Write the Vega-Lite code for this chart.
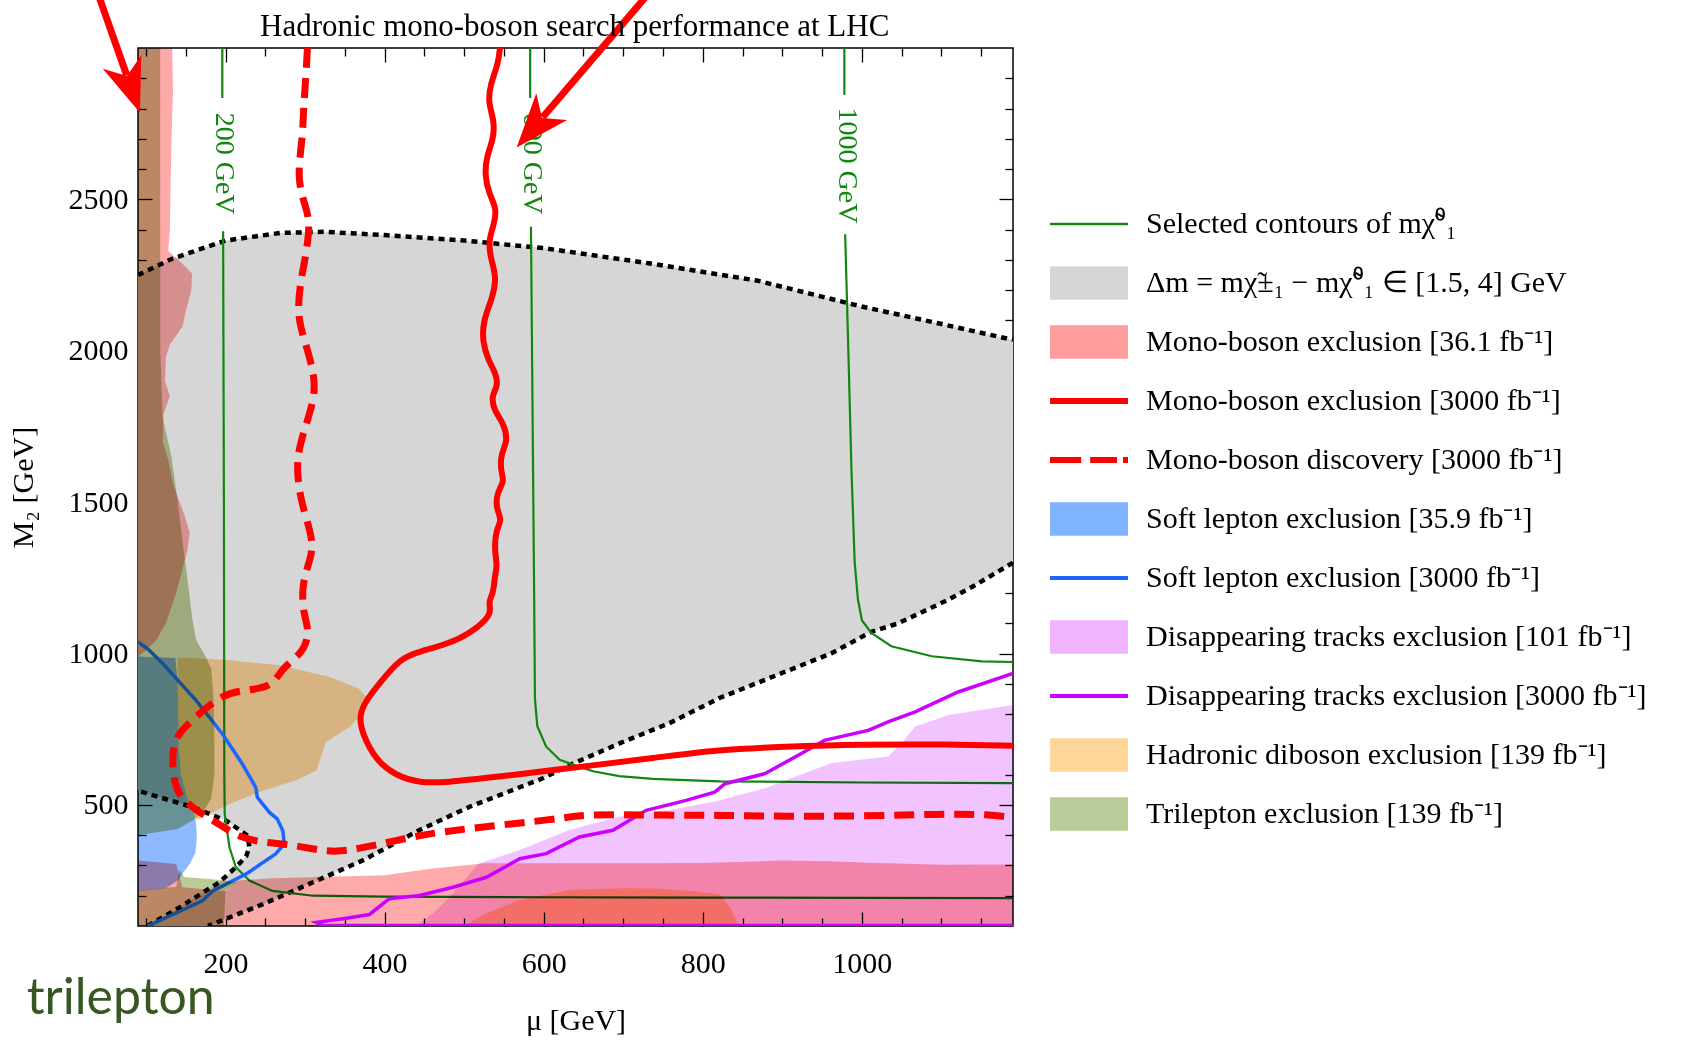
{
"$schema": "https://vega.github.io/schema/vega-lite/v6.json",
"width": 875,
"height": 878,
"autosize": {"type": "none"},
"padding": {"left": 138, "top": 48, "right": 679, "bottom": 114},
"background": "#ffffff",
"config": {
 "view": {"stroke": "#000000", "strokeWidth": 1.5},
 "axis": {"domain": false, "grid": false, "tickColor": "#000000", "tickWidth": 1.3, "labelFont": "Liberation Serif", "labelFontSize": 30, "labelColor": "#000000", "titleFont": "Liberation Serif", "titleFontSize": 30, "titleFontWeight": "normal", "titleColor": "#000000", "labelFlush": false, "labelOverlap": false, "format": "d"},
 "legend": {"labelFont": "Liberation Serif", "labelFontSize": 30, "labelColor": "#000000", "labelLimit": 700, "symbolSize": 6084, "symbolStrokeWidth": 0, "symbolOpacity": 1, "symbolOffset": 0, "labelOffset": 18, "rowPadding": 23, "clipHeight": 36, "padding": 0}
},
"resolve": {"axis": {"x": "independent", "y": "independent"}},
"datasets": {
 "grey": [
  {"mu":90,"m2":2250},{"mu":133,"m2":2304},{"mu":200,"m2":2364},{"mu":269,"m2":2389},{"mu":324,"m2":2393},{"mu":400,"m2":2382},{"mu":500,"m2":2364},{"mu":600,"m2":2339},{"mu":732,"m2":2289},{"mu":868,"m2":2232},{"mu":1000,"m2":2146},{"mu":1099,"m2":2089},{"mu":1190,"m2":2036},
  {"mu":1190,"m2":1300},{"mu":1140,"m2":1222},{"mu":1108,"m2":1177},{"mu":1045,"m2":1099},{"mu":1012,"m2":1072},{"mu":962,"m2":1001},{"mu":899,"m2":935},{"mu":821,"m2":853},{"mu":758,"m2":770},{"mu":696,"m2":704},{"mu":633,"m2":632},{"mu":599,"m2":588},{"mu":507,"m2":494},{"mu":444,"m2":417},{"mu":372,"m2":316},{"mu":314,"m2":249},{"mu":247,"m2":172},{"mu":178,"m2":100},
  {"mu":102,"m2":100},{"mu":142,"m2":161},{"mu":175,"m2":216},{"mu":192,"m2":244},{"mu":213,"m2":294},{"mu":226,"m2":330},{"mu":230,"m2":360},{"mu":228,"m2":398},{"mu":201,"m2":448},{"mu":159,"m2":492},{"mu":90,"m2":547}
 ],
 "dots": [
  {"g":"A","mu":90,"m2":2250},{"g":"A","mu":133,"m2":2304},{"g":"A","mu":200,"m2":2364},{"g":"A","mu":269,"m2":2389},{"g":"A","mu":324,"m2":2393},{"g":"A","mu":400,"m2":2382},{"g":"A","mu":500,"m2":2364},{"g":"A","mu":600,"m2":2339},{"g":"A","mu":732,"m2":2289},{"g":"A","mu":868,"m2":2232},{"g":"A","mu":1000,"m2":2146},{"g":"A","mu":1099,"m2":2089},{"g":"A","mu":1190,"m2":2036},
  {"g":"B","mu":1190,"m2":1300},{"g":"B","mu":1140,"m2":1222},{"g":"B","mu":1108,"m2":1177},{"g":"B","mu":1045,"m2":1099},{"g":"B","mu":1012,"m2":1072},{"g":"B","mu":962,"m2":1001},{"g":"B","mu":899,"m2":935},{"g":"B","mu":821,"m2":853},{"g":"B","mu":758,"m2":770},{"g":"B","mu":696,"m2":704},{"g":"B","mu":633,"m2":632},{"g":"B","mu":599,"m2":588},{"g":"B","mu":507,"m2":494},{"g":"B","mu":444,"m2":417},{"g":"B","mu":372,"m2":316},{"g":"B","mu":314,"m2":249},{"g":"B","mu":247,"m2":172},{"g":"B","mu":178,"m2":100},
  {"g":"C","mu":102,"m2":100},{"g":"C","mu":142,"m2":161},{"g":"C","mu":175,"m2":216},{"g":"C","mu":192,"m2":244},{"g":"C","mu":213,"m2":294},{"g":"C","mu":226,"m2":330},{"g":"C","mu":230,"m2":360},{"g":"C","mu":228,"m2":398},{"g":"C","mu":201,"m2":448},{"g":"C","mu":159,"m2":492},{"g":"C","mu":90,"m2":547}
 ],
 "contours": [
  {"g":"200a","mu":196,"m2":3000},{"g":"200a","mu":196,"m2":2835},
  {"g":"200b","mu":197,"m2":2395},{"g":"200b","mu":198,"m2":1500},{"g":"200b","mu":198.5,"m2":600},{"g":"200b","mu":199,"m2":470},{"g":"200b","mu":205,"m2":360},{"g":"200b","mu":213,"m2":294},{"g":"200b","mu":230,"m2":250},{"g":"200b","mu":259,"m2":216},{"g":"200b","mu":310,"m2":200},{"g":"200b","mu":400,"m2":197},{"g":"200b","mu":600,"m2":195},{"g":"200b","mu":800,"m2":194},{"g":"200b","mu":1000,"m2":193},{"g":"200b","mu":1190,"m2":192},
  {"g":"600a","mu":583,"m2":3000},{"g":"600a","mu":583,"m2":2835},
  {"g":"600b","mu":584,"m2":2410},{"g":"600b","mu":586,"m2":1800},{"g":"600b","mu":588,"m2":1200},{"g":"600b","mu":589,"m2":850},{"g":"600b","mu":592,"m2":760},{"g":"600b","mu":603,"m2":693},{"g":"600b","mu":620,"m2":649},{"g":"600b","mu":637,"m2":633},{"g":"600b","mu":662,"m2":611},{"g":"600b","mu":695,"m2":595},{"g":"600b","mu":737,"m2":586},{"g":"600b","mu":821,"m2":578},{"g":"600b","mu":1000,"m2":574},{"g":"600b","mu":1190,"m2":572},
  {"g":"1000a","mu":978,"m2":3000},{"g":"1000a","mu":978,"m2":2845},
  {"g":"1000b","mu":979,"m2":2385},{"g":"1000b","mu":983,"m2":2000},{"g":"1000b","mu":987,"m2":1600},{"g":"1000b","mu":991,"m2":1300},{"g":"1000b","mu":995,"m2":1180},{"g":"1000b","mu":1000,"m2":1110},{"g":"1000b","mu":1012,"m2":1068},{"g":"1000b","mu":1037,"m2":1024},{"g":"1000b","mu":1088,"m2":991},{"g":"1000b","mu":1151,"m2":974},{"g":"1000b","mu":1190,"m2":972}
 ],
 "labels": [
  {"mu":198,"m2":2618,"t":"200 GeV"},{"mu":585,"m2":2618,"t":"600 GeV"},{"mu":981,"m2":2612,"t":"1000 GeV"}
 ],
 "ttl": [{"mu":639,"m2":3068,"t":"Hadronic mono-boson search performance at LHC"}],
 "pinkF": [
  {"g":"p1","mu":90,"m2":3000},{"g":"p1","mu":133,"m2":3000},{"g":"p1","mu":134,"m2":2850},{"g":"p1","mu":132,"m2":2700},{"g":"p1","mu":131,"m2":2550},{"g":"p1","mu":130,"m2":2400},{"g":"p1","mu":128,"m2":2330},{"g":"p1","mu":145,"m2":2290},{"g":"p1","mu":158,"m2":2255},{"g":"p1","mu":157,"m2":2200},{"g":"p1","mu":150,"m2":2130},{"g":"p1","mu":146,"m2":2080},{"g":"p1","mu":130,"m2":2020},{"g":"p1","mu":125,"m2":1980},{"g":"p1","mu":124,"m2":1900},{"g":"p1","mu":130,"m2":1850},{"g":"p1","mu":122,"m2":1790},{"g":"p1","mu":121,"m2":1700},{"g":"p1","mu":128,"m2":1640},{"g":"p1","mu":134,"m2":1560},{"g":"p1","mu":148,"m2":1460},{"g":"p1","mu":155,"m2":1400},{"g":"p1","mu":152,"m2":1340},{"g":"p1","mu":145,"m2":1270},{"g":"p1","mu":138,"m2":1200},{"g":"p1","mu":125,"m2":1100},{"g":"p1","mu":113,"m2":1045},{"g":"p1","mu":100,"m2":1010},{"g":"p1","mu":90,"m2":990},
  {"g":"p2","mu":90,"m2":316},{"g":"p2","mu":138,"m2":305},{"g":"p2","mu":146,"m2":228},{"g":"p2","mu":200,"m2":215},{"g":"p2","mu":215,"m2":250},{"g":"p2","mu":260,"m2":258},{"g":"p2","mu":320,"m2":262},{"g":"p2","mu":400,"m2":268},{"g":"p2","mu":460,"m2":290},{"g":"p2","mu":527,"m2":307},{"g":"p2","mu":700,"m2":307},{"g":"p2","mu":800,"m2":308},{"g":"p2","mu":900,"m2":316},{"g":"p2","mu":960,"m2":314},{"g":"p2","mu":1000,"m2":310},{"g":"p2","mu":1100,"m2":302},{"g":"p2","mu":1190,"m2":303},{"g":"p2","mu":1190,"m2":100},{"g":"p2","mu":90,"m2":100}
 ],
 "blueF": [
  {"mu":90,"m2":990},{"mu":137,"m2":985},{"mu":140,"m2":900},{"mu":141,"m2":700},{"mu":144,"m2":600},{"mu":152,"m2":520},{"mu":160,"m2":480},{"mu":163,"m2":440},{"mu":164,"m2":390},{"mu":162,"m2":340},{"mu":155,"m2":305},{"mu":148,"m2":280},{"mu":140,"m2":250},{"mu":125,"m2":225},{"mu":90,"m2":215}
 ],
 "violetF": [
  {"mu":440,"m2":100},{"mu":460,"m2":140},{"mu":480,"m2":190},{"mu":500,"m2":250},{"mu":519,"m2":307},{"mu":570,"m2":351},{"mu":632,"m2":417},{"mu":695,"m2":461},{"mu":758,"m2":483},{"mu":815,"m2":511},{"mu":878,"m2":555},{"mu":962,"m2":638},{"mu":1033,"m2":660},{"mu":1052,"m2":710},{"mu":1067,"m2":759},{"mu":1109,"m2":797},{"mu":1190,"m2":830},{"mu":1190,"m2":100}
 ],
 "orangeF": [
  {"g":"o1","mu":140,"m2":985},{"g":"o1","mu":160,"m2":985},{"g":"o1","mu":205,"m2":978},{"g":"o1","mu":268,"m2":961},{"g":"o1","mu":330,"m2":923},{"g":"o1","mu":368,"m2":884},{"g":"o1","mu":379,"m2":851},{"g":"o1","mu":372,"m2":801},{"g":"o1","mu":356,"m2":757},{"g":"o1","mu":326,"m2":707},{"g":"o1","mu":320,"m2":658},{"g":"o1","mu":314,"m2":614},{"g":"o1","mu":289,"m2":581},{"g":"o1","mu":247,"m2":547},{"g":"o1","mu":205,"m2":503},{"g":"o1","mu":163,"m2":448},{"g":"o1","mu":160,"m2":480},{"g":"o1","mu":152,"m2":520},{"g":"o1","mu":144,"m2":600},{"g":"o1","mu":141,"m2":700},{"g":"o1","mu":140,"m2":900},
  {"g":"o2","mu":500,"m2":100},{"g":"o2","mu":525,"m2":140},{"g":"o2","mu":570,"m2":186},{"g":"o2","mu":632,"m2":219},{"g":"o2","mu":700,"m2":225},{"g":"o2","mu":740,"m2":224},{"g":"o2","mu":790,"m2":215},{"g":"o2","mu":821,"m2":205},{"g":"o2","mu":835,"m2":160},{"g":"o2","mu":845,"m2":100}
 ],
 "greenF": [
  {"g":"g1","mu":90,"m2":3000},{"g":"g1","mu":118,"m2":3000},{"g":"g1","mu":118,"m2":2000},{"g":"g1","mu":121,"m2":1780},{"g":"g1","mu":132,"m2":1650},{"g":"g1","mu":140,"m2":1500},{"g":"g1","mu":147,"m2":1350},{"g":"g1","mu":152,"m2":1250},{"g":"g1","mu":158,"m2":1120},{"g":"g1","mu":163,"m2":1045},{"g":"g1","mu":175,"m2":990},{"g":"g1","mu":182,"m2":950},{"g":"g1","mu":185,"m2":850},{"g":"g1","mu":186,"m2":700},{"g":"g1","mu":186,"m2":600},{"g":"g1","mu":182,"m2":520},{"g":"g1","mu":170,"m2":470},{"g":"g1","mu":158,"m2":448},{"g":"g1","mu":140,"m2":420},{"g":"g1","mu":90,"m2":400},
  {"g":"g2","mu":90,"m2":100},{"g":"g2","mu":198,"m2":100},{"g":"g2","mu":200,"m2":218},{"g":"g2","mu":215,"m2":245},{"g":"g2","mu":180,"m2":255},{"g":"g2","mu":148,"m2":262},{"g":"g2","mu":142,"m2":285},{"g":"g2","mu":138,"m2":230},{"g":"g2","mu":90,"m2":216}
 ],
 "blueL": [
  {"mu":90,"m2":1039},{"mu":104,"m2":1011},{"mu":121,"m2":967},{"mu":163,"m2":845},{"mu":196,"m2":735},{"mu":221,"m2":636},{"mu":238,"m2":558},{"mu":240,"m2":525},{"mu":255,"m2":476},{"mu":265,"m2":454},{"mu":272,"m2":415},{"mu":274,"m2":371},{"mu":263,"m2":338},{"mu":226,"m2":272},{"mu":184,"m2":216},{"mu":171,"m2":183},{"mu":102,"m2":100}
 ],
 "magL": [
  {"mu":1190,"m2":102},{"mu":322,"m2":102},{"mu":314,"m2":112},{"mu":350,"m2":125},{"mu":381,"m2":138},{"mu":406,"m2":190},{"mu":444,"m2":201},{"mu":486,"m2":228},{"mu":528,"m2":261},{"mu":570,"m2":322},{"mu":603,"m2":339},{"mu":645,"m2":394},{"mu":687,"m2":416},{"mu":729,"m2":482},{"mu":779,"m2":515},{"mu":815,"m2":542},{"mu":828,"m2":570},{"mu":878,"m2":603},{"mu":920,"m2":664},{"mu":953,"m2":713},{"mu":1008,"m2":746},{"mu":1033,"m2":774},{"mu":1067,"m2":807},{"mu":1121,"m2":873},{"mu":1190,"m2":934}
 ],
 "red": [
  {"mu":545,"m2":3000},{"mu":543,"m2":2950},{"mu":533,"m2":2880},{"mu":530,"m2":2820},{"mu":538,"m2":2760},{"mu":537,"m2":2700},{"mu":528,"m2":2640},{"mu":526,"m2":2580},{"mu":531,"m2":2520},{"mu":541,"m2":2470},{"mu":538,"m2":2420},{"mu":530,"m2":2360},{"mu":534,"m2":2300},{"mu":541,"m2":2240},{"mu":535,"m2":2170},{"mu":524,"m2":2100},{"mu":523,"m2":2030},{"mu":530,"m2":1970},{"mu":541,"m2":1920},{"mu":542,"m2":1880},{"mu":534,"m2":1850},{"mu":538,"m2":1800},{"mu":550,"m2":1760},{"mu":555,"m2":1700},{"mu":546,"m2":1660},{"mu":546,"m2":1600},{"mu":551,"m2":1570},{"mu":541,"m2":1530},{"mu":540,"m2":1480},{"mu":548,"m2":1440},{"mu":540,"m2":1410},{"mu":538,"m2":1340},{"mu":542,"m2":1290},{"mu":538,"m2":1250},{"mu":537,"m2":1200},{"mu":530,"m2":1170},{"mu":535,"m2":1135},{"mu":520,"m2":1090},{"mu":486,"m2":1035},{"mu":444,"m2":1007},{"mu":420,"m2":985},{"mu":393,"m2":900},{"mu":375,"m2":840},{"mu":368,"m2":790},{"mu":372,"m2":735},{"mu":389,"m2":647},{"mu":414,"m2":597},{"mu":444,"m2":572},{"mu":480,"m2":575},{"mu":528,"m2":589},{"mu":600,"m2":611},{"mu":654,"m2":628},{"mu":737,"m2":655},{"mu":821,"m2":683},{"mu":900,"m2":692},{"mu":1000,"m2":700},{"mu":1109,"m2":700},{"mu":1190,"m2":695}
 ],
 "redDash": [
  {"mu":303,"m2":3000},{"mu":301,"m2":2900},{"mu":298,"m2":2800},{"mu":297,"m2":2700},{"mu":289,"m2":2560},{"mu":305,"m2":2450},{"mu":305,"m2":2390},{"mu":300,"m2":2300},{"mu":294,"m2":2225},{"mu":290,"m2":2115},{"mu":300,"m2":2030},{"mu":313,"m2":1910},{"mu":311,"m2":1830},{"mu":294,"m2":1700},{"mu":289,"m2":1620},{"mu":294,"m2":1510},{"mu":305,"m2":1420},{"mu":311,"m2":1345},{"mu":302,"m2":1280},{"mu":296,"m2":1213},{"mu":298,"m2":1130},{"mu":306,"m2":1070},{"mu":297,"m2":1000},{"mu":272,"m2":956},{"mu":259,"m2":890},{"mu":230,"m2":880},{"mu":196,"m2":868},{"mu":163,"m2":790},{"mu":134,"m2":724},{"mu":133,"m2":625},{"mu":138,"m2":536},{"mu":163,"m2":481},{"mu":192,"m2":437},{"mu":217,"m2":393},{"mu":247,"m2":376},{"mu":276,"m2":371},{"mu":310,"m2":354},{"mu":339,"m2":343},{"mu":372,"m2":358},{"mu":414,"m2":382},{"mu":456,"m2":406},{"mu":528,"m2":429},{"mu":611,"m2":451},{"mu":654,"m2":470},{"mu":737,"m2":466},{"mu":821,"m2":466},{"mu":900,"m2":462},{"mu":1000,"m2":463},{"mu":1100,"m2":470},{"mu":1160,"m2":469},{"mu":1190,"m2":458}
 ],
 "arrows": [
  {"g":"a1","mu":40.8,"m2":3171},{"g":"a1","mu":75.8,"m2":2910},
  {"g":"a2","mu":729,"m2":3171},{"g":"a2","mu":598.7,"m2":2771}
 ],
 "head1": [{"mu":92.5,"m2":2786}],
 "head2": [{"mu":566,"m2":2671}],
 "note": [{"mu":-50,"m2":-192,"t":"trilepton"}],
 "leg": [
  {"s":"Selected contours of mχ̃⁰₁"},
  {"s":"Δm = mχ̃±₁ − mχ̃⁰₁ ∈ [1.5, 4] GeV"},
  {"s":"Mono-boson exclusion [36.1 fb⁻¹]"},
  {"s":"Mono-boson exclusion [3000 fb⁻¹]"},
  {"s":"Mono-boson discovery [3000 fb⁻¹]"},
  {"s":"Soft lepton exclusion [35.9 fb⁻¹]"},
  {"s":"Soft lepton exclusion [3000 fb⁻¹]"},
  {"s":"Disappearing tracks exclusion [101 fb⁻¹]"},
  {"s":"Disappearing tracks exclusion [3000 fb⁻¹]"},
  {"s":"Hadronic diboson exclusion [139 fb⁻¹]"},
  {"s":"Trilepton exclusion [139 fb⁻¹]"}
 ]
},
"layer": [
 {"data": {"name": "grey"},
  "mark": {"type": "line", "fill": "#d6d6d6", "strokeWidth": 0, "interpolate": "linear-closed", "order": false},
  "encoding": {
   "x": {"field": "mu", "type": "quantitative", "scale": {"domain": [90, 1190], "nice": false, "zero": false}, "axis": {"orient": "bottom", "values": [200, 400, 600, 800, 1000], "tickSize": -14, "labelPadding": 36, "title": "μ [GeV]", "titlePadding": 27}},
   "y": {"field": "m2", "type": "quantitative", "scale": {"domain": [100, 3000], "nice": false, "zero": false}, "axis": {"orient": "left", "values": [500, 1000, 1500, 2000, 2500], "tickSize": -14, "labelPadding": 24, "title": "M₂ [GeV]", "titlePadding": 30}}
  }},
 {"data": {"name": "dots"},
  "mark": {"type": "line", "color": "#000000", "strokeWidth": 4.5, "strokeDash": [6, 5], "order": false, "clip": true},
  "encoding": {
   "x": {"field": "mu", "type": "quantitative", "axis": {"orient": "bottom", "values": [100,150,250,300,350,450,500,550,650,700,750,850,900,950,1050,1100,1150], "tickSize": -8, "labels": false, "title": null}},
   "y": {"field": "m2", "type": "quantitative", "axis": {"orient": "left", "values": [200,300,400,600,700,800,900,1100,1200,1300,1400,1600,1700,1800,1900,2100,2200,2300,2400,2600,2700,2800,2900], "tickSize": -8, "labels": false, "title": null}},
   "detail": {"field": "g", "type": "nominal"}
  }},
 {"data": {"name": "contours"},
  "mark": {"type": "line", "color": "#108810", "strokeWidth": 2.2, "order": false, "clip": true},
  "encoding": {
   "x": {"field": "mu", "type": "quantitative", "axis": {"orient": "top", "values": [200, 400, 600, 800, 1000], "tickSize": -14, "labels": false, "title": null}},
   "y": {"field": "m2", "type": "quantitative", "axis": {"orient": "right", "values": [500, 1000, 1500, 2000, 2500], "tickSize": -14, "labels": false, "title": null}},
   "detail": {"field": "g", "type": "nominal"}
  }},
 {"data": {"name": "labels"},
  "mark": {"type": "text", "font": "Liberation Serif", "fontSize": 28, "color": "#108810", "angle": 90, "align": "center", "baseline": "middle"},
  "encoding": {
   "x": {"field": "mu", "type": "quantitative", "axis": {"orient": "top", "values": [100,150,250,300,350,450,500,550,650,700,750,850,900,950,1050,1100,1150], "tickSize": -8, "labels": false, "title": null}},
   "y": {"field": "m2", "type": "quantitative", "axis": {"orient": "right", "values": [200,300,400,600,700,800,900,1100,1200,1300,1400,1600,1700,1800,1900,2100,2200,2300,2400,2600,2700,2800,2900], "tickSize": -8, "labels": false, "title": null}},
   "text": {"field": "t", "type": "nominal"}
  }},
 {"data": {"name": "pinkF"},
  "mark": {"type": "line", "fill": "#ffaaaa", "strokeWidth": 0, "interpolate": "linear-closed", "order": false, "blend": "multiply"},
  "encoding": {"x": {"field": "mu", "type": "quantitative", "axis": null}, "y": {"field": "m2", "type": "quantitative", "axis": null}, "detail": {"field": "g", "type": "nominal"}}},
 {"data": {"name": "orangeF"},
  "mark": {"type": "line", "fill": "#ffd699", "strokeWidth": 0, "interpolate": "linear-closed", "order": false, "blend": "multiply"},
  "encoding": {"x": {"field": "mu", "type": "quantitative", "axis": null}, "y": {"field": "m2", "type": "quantitative", "axis": null}, "detail": {"field": "g", "type": "nominal"}}},
 {"data": {"name": "violetF"},
  "mark": {"type": "line", "fill": "#f2c4ff", "strokeWidth": 0, "interpolate": "linear-closed", "order": false, "blend": "multiply"},
  "encoding": {"x": {"field": "mu", "type": "quantitative", "axis": null}, "y": {"field": "m2", "type": "quantitative", "axis": null}}},
 {"data": {"name": "blueF"},
  "mark": {"type": "line", "fill": "#8cb9ff", "strokeWidth": 0, "interpolate": "linear-closed", "order": false, "blend": "multiply"},
  "encoding": {"x": {"field": "mu", "type": "quantitative", "axis": null}, "y": {"field": "m2", "type": "quantitative", "axis": null}}},
 {"data": {"name": "blueL"},
  "mark": {"type": "line", "color": "#1a66ff", "strokeWidth": 3.5, "order": false, "clip": true},
  "encoding": {"x": {"field": "mu", "type": "quantitative", "axis": null}, "y": {"field": "m2", "type": "quantitative", "axis": null}}},
 {"data": {"name": "greenF"},
  "mark": {"type": "line", "fill": "#bccb96", "strokeWidth": 0, "interpolate": "linear-closed", "order": false, "blend": "multiply"},
  "encoding": {"x": {"field": "mu", "type": "quantitative", "axis": null}, "y": {"field": "m2", "type": "quantitative", "axis": null}, "detail": {"field": "g", "type": "nominal"}}},
 {"data": {"name": "magL"},
  "mark": {"type": "line", "color": "#cc00ff", "strokeWidth": 3.5, "order": false, "clip": true},
  "encoding": {"x": {"field": "mu", "type": "quantitative", "axis": null}, "y": {"field": "m2", "type": "quantitative", "axis": null}}},
 {"data": {"name": "red"},
  "mark": {"type": "line", "color": "#ff0000", "strokeWidth": 6, "strokeJoin": "round", "interpolate": "basis", "order": false, "clip": true},
  "encoding": {"x": {"field": "mu", "type": "quantitative", "axis": null}, "y": {"field": "m2", "type": "quantitative", "axis": null}}},
 {"data": {"name": "redDash"},
  "mark": {"type": "line", "color": "#ff0000", "strokeWidth": 7, "strokeDash": [20, 10], "interpolate": "basis", "order": false, "clip": true},
  "encoding": {"x": {"field": "mu", "type": "quantitative", "axis": null}, "y": {"field": "m2", "type": "quantitative", "axis": null}}},
 {"data": {"name": "arrows"},
  "mark": {"type": "line", "color": "#ff0000", "strokeWidth": 7, "order": false, "clip": false},
  "encoding": {"x": {"field": "mu", "type": "quantitative", "axis": null}, "y": {"field": "m2", "type": "quantitative", "axis": null}, "detail": {"field": "g", "type": "nominal"}}},
 {"data": {"name": "head1"},
  "mark": {"type": "point", "shape": "M0,0L-0.68,-1.8L0,-1.3L0.68,-1.8Z", "size": 3600, "angle": 340.6, "filled": true, "color": "#ff0000", "opacity": 1, "strokeWidth": 0, "clip": false},
  "encoding": {"x": {"field": "mu", "type": "quantitative", "axis": null}, "y": {"field": "m2", "type": "quantitative", "axis": null}}},
 {"data": {"name": "head2"},
  "mark": {"type": "point", "shape": "M0,0L-0.68,-1.8L0,-1.3L0.68,-1.8Z", "size": 3600, "angle": 40.6, "filled": true, "color": "#ff0000", "opacity": 1, "strokeWidth": 0, "clip": false},
  "encoding": {"x": {"field": "mu", "type": "quantitative", "axis": null}, "y": {"field": "m2", "type": "quantitative", "axis": null}}},
 {"data": {"name": "ttl"},
  "mark": {"type": "text", "font": "Liberation Serif", "fontSize": 31, "color": "#000000", "align": "center", "baseline": "middle", "clip": false},
  "encoding": {"x": {"field": "mu", "type": "quantitative", "axis": null}, "y": {"field": "m2", "type": "quantitative", "axis": null}, "text": {"field": "t", "type": "nominal"}}},
 {"data": {"name": "note"},
  "mark": {"type": "text", "font": "Lato", "fontSize": 50, "color": "#385723", "align": "left", "baseline": "alphabetic", "clip": false},
  "encoding": {"x": {"field": "mu", "type": "quantitative", "axis": null}, "y": {"field": "m2", "type": "quantitative", "axis": null}, "text": {"field": "t", "type": "nominal"}}},
 {"data": {"name": "leg"},
  "mark": {"type": "point", "filled": true, "opacity": 0},
  "encoding": {
   "color": {"field": "s", "type": "nominal",
    "scale": {"domain": ["Selected contours of mχ̃⁰₁", "Δm = mχ̃±₁ − mχ̃⁰₁ ∈ [1.5, 4] GeV", "Mono-boson exclusion [36.1 fb⁻¹]", "Mono-boson exclusion [3000 fb⁻¹]", "Mono-boson discovery [3000 fb⁻¹]", "Soft lepton exclusion [35.9 fb⁻¹]", "Soft lepton exclusion [3000 fb⁻¹]", "Disappearing tracks exclusion [101 fb⁻¹]", "Disappearing tracks exclusion [3000 fb⁻¹]", "Hadronic diboson exclusion [139 fb⁻¹]", "Trilepton exclusion [139 fb⁻¹]"],
     "range": ["#108810", "#d6d6d6", "#ff9c9c", "#ff0000", "#ff0000", "#80b3ff", "#1a66ff", "#efb3ff", "#cc00ff", "#ffd699", "#b9cc99"]},
    "legend": {"title": null, "orient": "none", "legendX": 912, "legendY": 158}},
   "shape": {"field": "s", "type": "nominal",
    "scale": {"domain": ["Selected contours of mχ̃⁰₁", "Δm = mχ̃±₁ − mχ̃⁰₁ ∈ [1.5, 4] GeV", "Mono-boson exclusion [36.1 fb⁻¹]", "Mono-boson exclusion [3000 fb⁻¹]", "Mono-boson discovery [3000 fb⁻¹]", "Soft lepton exclusion [35.9 fb⁻¹]", "Soft lepton exclusion [3000 fb⁻¹]", "Disappearing tracks exclusion [101 fb⁻¹]", "Disappearing tracks exclusion [3000 fb⁻¹]", "Hadronic diboson exclusion [139 fb⁻¹]", "Trilepton exclusion [139 fb⁻¹]"],
     "range": ["M-1,-0.035H1V0.035H-1Z", "M-1,-0.43H1V0.43H-1Z", "M-1,-0.43H1V0.43H-1Z", "M-1,-0.08H1V0.08H-1Z", "M-1,-0.08H-0.2V0.08H-1Z M0.03,-0.08H0.72V0.08H0.03Z M0.87,-0.08H1V0.08H0.87Z", "M-1,-0.43H1V0.43H-1Z", "M-1,-0.05H1V0.05H-1Z", "M-1,-0.43H1V0.43H-1Z", "M-1,-0.05H1V0.05H-1Z", "M-1,-0.43H1V0.43H-1Z", "M-1,-0.43H1V0.43H-1Z"]},
    "legend": {"title": null, "orient": "none", "legendX": 912, "legendY": 158}}
  }}
]
}
